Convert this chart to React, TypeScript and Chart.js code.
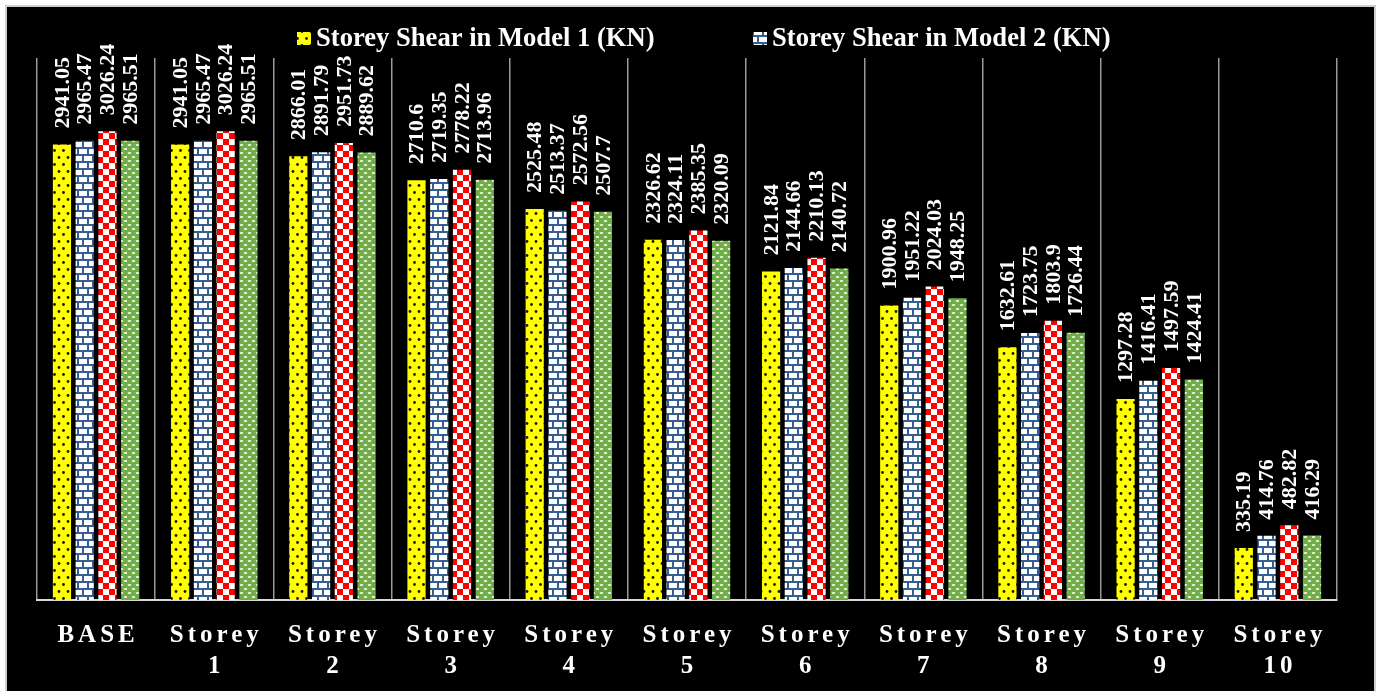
import React, { useEffect, useRef } from 'react';
import { Chart, registerables } from 'chart.js';

Chart.register(...registerables);

const categories = ['BASE', 'Storey 1', 'Storey 2', 'Storey 3', 'Storey 4', 'Storey 5', 'Storey 6', 'Storey 7', 'Storey 8', 'Storey 9', 'Storey 10'];
const seriesNames = [
  'Storey Shear in Model 1 (KN)',
  'Storey Shear in Model 2 (KN)',
  'Storey Shear in Model 3 (KN)',
  'Storey Shear in Model 4 (KN)',
];
const model1 = [2941.05, 2941.05, 2866.01, 2710.6, 2525.48, 2326.62, 2121.84, 1900.96, 1632.61, 1297.28, 335.19];
const model2 = [2965.47, 2965.47, 2891.79, 2719.35, 2513.37, 2324.11, 2144.66, 1951.22, 1723.75, 1416.41, 414.76];
const model3 = [3026.24, 3026.24, 2951.73, 2778.22, 2572.56, 2385.35, 2210.13, 2024.03, 1803.9, 1497.59, 482.82];
const model4 = [2965.51, 2965.51, 2889.62, 2713.96, 2507.7, 2320.09, 2140.72, 1948.25, 1726.44, 1424.41, 416.29];
const legendCount = 2;
const yMax = 3500;

function tile(w: number, h: number, draw: (c: CanvasRenderingContext2D) => void, ctx: CanvasRenderingContext2D) {
  const cv = document.createElement('canvas');
  cv.width = w;
  cv.height = h;
  const c = cv.getContext('2d')!;
  draw(c);
  return ctx.createPattern(cv, 'repeat')!;
}

function makePatterns(ctx: CanvasRenderingContext2D) {
  const dots = tile(9, 14, (c) => {
    c.fillStyle = '#ffff00';
    c.fillRect(0, 0, 9, 14);
    c.fillStyle = '#1a1a00';
    c.beginPath(); c.arc(2.5, 3.5, 1.4, 0, Math.PI * 2); c.fill();
    c.beginPath(); c.arc(7, 10.5, 1.4, 0, Math.PI * 2); c.fill();
  }, ctx);
  const brick = tile(10, 14, (c) => {
    c.fillStyle = '#ffffff';
    c.fillRect(0, 0, 10, 14);
    c.fillStyle = '#365f91';
    c.fillRect(0, 0, 10, 2);
    c.fillRect(0, 7, 10, 2);
    c.fillRect(0, 0, 2, 7);
    c.fillRect(5, 7, 2, 7);
  }, ctx);
  const checker = tile(12, 12, (c) => {
    c.fillStyle = '#ffffff';
    c.fillRect(0, 0, 12, 12);
    c.fillStyle = '#ff0000';
    c.fillRect(0, 0, 6, 6);
    c.fillRect(6, 6, 6, 6);
  }, ctx);
  const green = tile(8, 8, (c) => {
    c.fillStyle = '#70ad47';
    c.fillRect(0, 0, 8, 8);
    c.fillStyle = '#eef5e8';
    c.beginPath(); c.ellipse(2.5, 2, 1.9, 0.9, 0, 0, Math.PI * 2); c.fill();
    c.beginPath(); c.ellipse(6.5, 6, 1.9, 0.9, 0, 0, Math.PI * 2); c.fill();
  }, ctx);
  return [dots, brick, checker, green];
}

export default function App() {
  const ref = useRef<HTMLCanvasElement>(null);

  useEffect(() => {
    document.documentElement.style.overflow = 'hidden';
    const canvas = ref.current!;
    const ctx = canvas.getContext('2d')!;
    const patterns = makePatterns(ctx);
    const values = [model1, model2, model3, model4];

    const valueLabels = {
      id: 'valueLabels',
      afterDatasetsDraw(chart: any) {
        const c = chart.ctx as CanvasRenderingContext2D;
        c.save();
        c.font = 'bold 22px "Liberation Serif"';
        c.fillStyle = '#ffffff';
        c.textAlign = 'left';
        c.textBaseline = 'middle';
        chart.data.datasets.forEach((ds: any, di: number) => {
          const meta = chart.getDatasetMeta(di);
          meta.data.forEach((bar: any, i: number) => {
            c.save();
            c.translate(bar.x + 1, bar.y - 16);
            c.rotate(-Math.PI / 2);
            c.fillText(String(ds.data[i]), 0, 0);
            c.restore();
          });
        });
        c.restore();
      },
    };

    const xLabels = {
      id: 'xLabels',
      afterDraw(chart: any) {
        const c = chart.ctx as CanvasRenderingContext2D;
        const xs = chart.scales.x;
        c.save();
        c.font = 'bold 25px "Liberation Serif"';
        (c as any).letterSpacing = '4px';
        c.fillStyle = '#ffffff';
        c.textAlign = 'center';
        c.textBaseline = 'alphabetic';
        categories.forEach((cat, i) => {
          const x = xs.getPixelForValue(i) + 2;
          const lines = cat.split(' ');
          lines.forEach((ln, li) => {
            c.fillText(ln, x, 635 + li * 31);
          });
        });
        c.restore();
      },
    };

    const legendDraw = {
      id: 'customLegend',
      afterDraw(chart: any) {
        const c = chart.ctx as CanvasRenderingContext2D;
        const pos = [
          { box: 290, text: 309 },
          { box: 746, text: 765 },
        ];
        c.save();
        c.font = 'bold 26.6px "Liberation Serif"';
        c.fillStyle = '#ffffff';
        c.textAlign = 'left';
        c.textBaseline = 'alphabetic';
        chart.data.datasets.slice(0, legendCount).forEach((ds: any, i: number) => {
          c.fillStyle = ds.backgroundColor;
          c.fillRect(pos[i].box, 25, 14, 13);
          c.fillStyle = '#ffffff';
          c.fillText(ds.label, pos[i].text, 39);
        });
        c.restore();
      },
    };

    const chart = new Chart(canvas, {
      type: 'bar',
      data: {
        labels: categories,
        datasets: values.map((v, i) => ({
          label: seriesNames[i],
          data: v,
          backgroundColor: patterns[i] as any,
          borderWidth: 0,
          categoryPercentage: 0.77,
          barPercentage: 0.8,
        })),
      },
      options: {
        responsive: false,
        animation: false,
        layout: { padding: { left: 30, right: 37, top: 51, bottom: 0 } },
        plugins: {
          legend: { display: false },
          tooltip: { enabled: false },
        },
        scales: {
          x: {
            grid: { color: '#999999', lineWidth: 1.5, drawTicks: false, offset: true },
            border: { color: '#d9d9d9', width: 2 },
            ticks: { display: false },
            afterFit: (s: any) => { s.height = 91; },
          },
          y: { display: false, min: 0, max: yMax },
        },
      },
      plugins: [valueLabels, xLabels, legendDraw],
    });
    return () => chart.destroy();
  }, []);

  return (
    <div
      style={{
        position: 'absolute',
        left: 5,
        top: 5,
        width: 1367,
        height: 684,
        background: '#000000',
        borderTop: '2px solid #cfcfcf',
        borderLeft: '2px solid #cfcfcf',
        borderRight: '2px solid #cfcfcf',
      }}
    >
      <canvas ref={ref} width={1367} height={684} style={{ display: 'block' }} />
    </div>
  );
}
